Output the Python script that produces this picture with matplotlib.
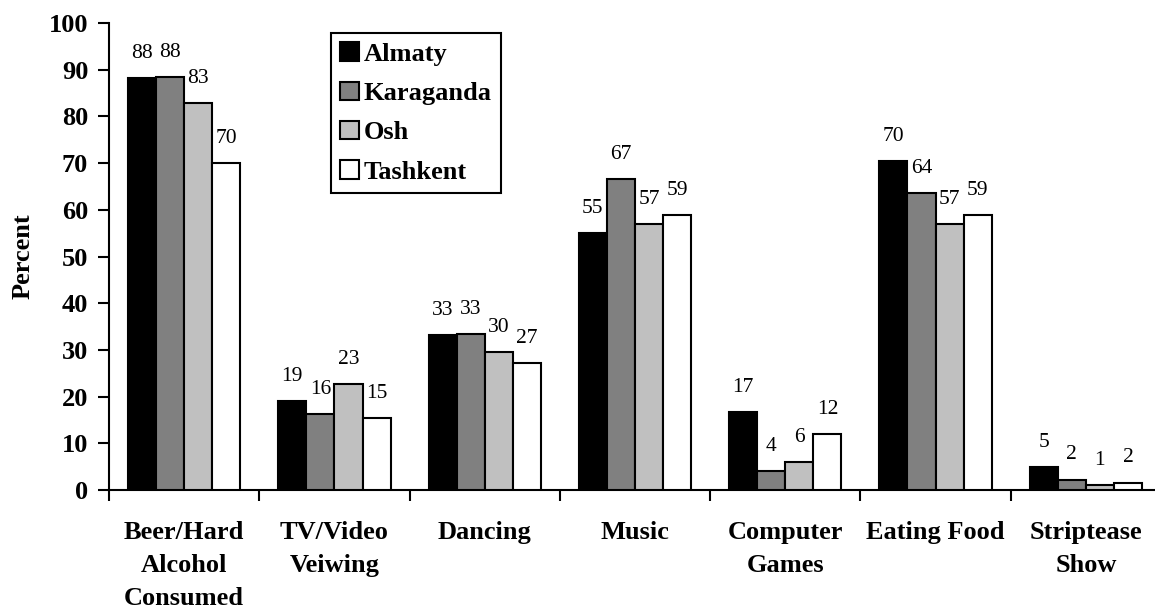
import numpy as np
import matplotlib
matplotlib.use('Agg')
import matplotlib.pyplot as plt
import matplotlib as mpl

categories = ['Beer/Hard\nAlcohol\nConsumed', 'TV/Video\nVeiwing', 'Dancing', 'Music',
              'Computer\nGames', 'Eating Food', 'Striptease\nShow']
cities = ['Almaty', 'Karaganda', 'Osh', 'Tashkent']
almaty = [88.2, 19.1, 33.2, 55.0, 16.7, 70.4, 4.9]
karaganda = [88.4, 16.3, 33.4, 66.6, 4.1, 63.6, 2.2]
osh = [82.9, 22.6, 29.5, 57.0, 6.0, 57.0, 1.1]
tashkent = [70.0, 15.4, 27.2, 58.9, 12.0, 58.9, 1.6]
colors = ['black', '#808080', '#c0c0c0', 'white']

mpl.rcParams['font.family'] = ['Liberation Serif', 'DejaVu Serif']

fig = plt.figure(figsize=(11.55, 6.07), dpi=100)
ax = fig.add_axes([109/1155, 117/607, 1052/1155, 467/607])

w = 0.187
x = np.arange(len(categories))
series = [almaty, karaganda, osh, tashkent]
for k, (vals, name, c) in enumerate(zip(series, cities, colors)):
    pos = x + (k - 1.5)*w
    ax.bar(pos, vals, w, color=c, edgecolor='black', linewidth=1.5, label=name, zorder=3)
    for xi, v in zip(pos, vals):
        ax.annotate('%d' % round(v), (xi, v), xytext=(0, 11), textcoords='offset points',
                    ha='center', va='bottom', fontsize=15.5)

ax.set_xlim(-0.5, 6.5)
ax.set_ylim(0, 100)
ax.set_yticks(np.arange(0, 101, 10))
ax.set_xticks(np.arange(-0.5, 7, 1))
ax.set_xticklabels([])
ax.set_xticks(x, minor=True)
ax.set_xticklabels(categories, minor=True, fontsize=19, fontweight='bold', linespacing=1.58)
ax.tick_params(axis='x', which='major', direction='out', length=8, width=1.5)
ax.tick_params(axis='x', which='minor', length=0, pad=22)
ax.tick_params(axis='y', direction='out', length=8, width=1.5, pad=7, labelsize=19)
for t in ax.get_yticklabels():
    t.set_fontweight('bold')

for s in ['top', 'right']:
    ax.spines[s].set_visible(False)
ax.spines['left'].set_linewidth(1.5)
ax.spines['bottom'].set_linewidth(1.5)

ax.set_ylabel('Percent', fontsize=19, fontweight='bold', labelpad=10)

leg = ax.legend(loc='upper left', bbox_to_anchor=(331/1155, 1 - 33/607),
                bbox_transform=fig.transFigure, borderaxespad=0, fancybox=False,
                framealpha=1, edgecolor='black', handlelength=0.7, handleheight=0.7,
                handletextpad=0.2, labelspacing=0.6, borderpad=0.35,
                prop={'size': 19, 'weight': 'bold'})
leg.get_frame().set_linewidth(1.5)

fig.savefig('out.png', dpi=100)
